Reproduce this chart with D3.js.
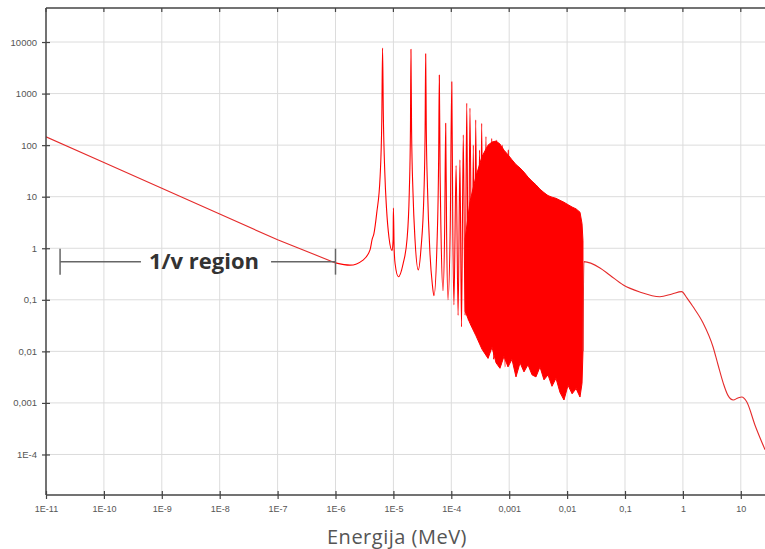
<!DOCTYPE html>
<html><head><meta charset="utf-8">
<script src="https://cdn.jsdelivr.net/npm/d3@7"></script>
<style>
html,body{margin:0;padding:0;background:#fff;}
svg{display:block;}
</style></head>
<body>
<script>
// ---- Data (energy in MeV, cross section in barns) ----
const xTickValues = [1e-11,1e-10,1e-9,1e-8,1e-7,1e-6,1e-5,1e-4,1e-3,1e-2,1e-1,1,10];
const xTickLabels = ["1E-11","1E-10","1E-9","1E-8","1E-7","1E-6","1E-5","1E-4","0,001","0,01","0,1","1","10"];
const yTickValues = [1e4,1e3,1e2,10,1,0.1,0.01,0.001,1e-4];
const yTickLabels = ["10000","1000","100","10","1","0,1","0,01","0,001","1E-4"];

// 1/v region
const oneOverVE     = [1e-11, 1e-10, 1e-9, 1e-8, 1e-7, 1e-6];
const oneOverVSigma = [145, 46, 14.6, 4.6, 1.46, 0.52];

// resolved resonance region (peaks and valleys)
const resolvedE = [1e-6, 1.78e-6, 2.99e-6, 3.95e-6, 4.3e-6, 4.6e-6, 5.15e-6, 5.9e-6, 6.3e-6, 6.5e-6, 6.7e-6, 7.1e-6, 7.6e-6, 8.4e-6, 9.5e-6, 9.9e-6, 1.0e-5, 1.03e-5, 1.07e-5, 1.22e-5, 1.47e-5, 1.72e-5, 1.88e-5, 1.97e-5, 2.01e-5, 2.06e-5, 2.18e-5, 2.36e-5, 2.69e-5, 3.0e-5, 3.37e-5, 3.53e-5, 3.61e-5, 3.7e-5, 3.88e-5, 4.28e-5, 4.7e-5, 5.02e-5, 5.66e-5, 6.05e-5, 6.21e-5, 6.4e-5, 6.64e-5, 7.19e-5, 7.7e-5, 8.0e-5, 8.3e-5, 8.77e-5, 9.6e-5, 1.02e-4, 1.06e-4, 1.11e-4, 1.21e-4, 1.31e-4, 1.41e-4, 1.5e-4, 1.61e-4, 1.73e-4, 1.85e-4, 1.97e-4, 2.10e-4, 2.28e-4, 2.40e-4, 2.52e-4, 2.64e-4, 2.84e-4, 3.07e-4, 3.2e-4, 3.35e-4, 3.6e-4, 3.97e-4, 4.31e-4, 4.57e-4, 4.75e-4, 4.99e-4, 5.36e-4, 6.08e-4, 6.67e-4, 7.73e-4, 8.45e-4, 9.64e-4, 1.0e-3];
const resolvedSigma = [0.52, 0.47, 0.59, 0.93, 1.5, 1.9, 4.8, 25, 300, 7600, 400, 30, 6, 1.6, 0.9, 1.5, 6, 1.0, 0.5, 0.28, 0.5, 1.5, 12, 200, 7250, 200, 12, 1.5, 0.38, 1.0, 12, 200, 5900, 200, 15, 0.8, 0.2, 0.12, 1.2, 60, 2300, 30, 2, 0.15, 3, 265, 2, 0.1, 3, 1700, 3, 0.08, 40, 0.05, 52, 0.03, 158, 0.05, 650, 0.04, 520, 0.03, 100, 0.025, 310, 0.02, 80, 0.5, 265, 0.012, 146, 0.0075, 60, 0.2, 135, 0.007, 125, 0.005, 100, 0.005, 80, 0.006];

// dense resonance band: upper and lower envelopes
const denseE     = [1.73e-4, 2.10e-4, 2.67e-4, 3.39e-4, 4.31e-4, 5.05e-4, 5.92e-4, 6.93e-4, 8.13e-4, 9.53e-4, 1.117e-3, 1.31e-3, 1.54e-3, 1.80e-3, 2.11e-3, 2.48e-3, 2.90e-3, 3.40e-3, 3.99e-3, 4.68e-3, 5.48e-3, 6.43e-3, 7.54e-3, 8.83e-3, 1.038e-2, 1.22e-2, 1.43e-2, 1.67e-2, 1.81e-2, 1.88e-2];
const denseUpper = [1.5, 8, 25, 60, 100, 115, 120, 105, 80, 65, 52, 42, 36, 30, 24, 20, 17, 14, 12, 10.5, 9.8, 9.3, 8.5, 7.8, 7, 6.3, 5.8, 5, 3, 1.4];
const denseLower = [0.06, 0.035, 0.02, 0.011, 0.0073, 0.012, 0.006, 0.0047, 0.008, 0.005, 0.007, 0.0032, 0.006, 0.004, 0.0055, 0.0035, 0.0032, 0.005, 0.0028, 0.0035, 0.0021, 0.003, 0.0016, 0.00114, 0.0022, 0.0015, 0.0019, 0.0013, 0.0024, 0.01];

// fast region
const fastE     = [0.0188, 0.0195, 0.037, 0.055, 0.0935, 0.18, 0.40, 0.65, 0.95, 1.18, 1.49, 2.22, 3.31, 4.04, 4.99, 6.0, 7.41, 8.95, 10.4, 12.65, 17.6, 26.2];
const fastSigma = [0.01, 0.55, 0.415, 0.30, 0.194, 0.142, 0.115, 0.13, 0.144, 0.108, 0.074, 0.036, 0.0123, 0.0055, 0.0024, 0.0014, 0.00114, 0.00125, 0.0013, 0.00105, 3.7e-4, 1.24e-4];

// annotation
const annoLabel = "1/v region";
const annoStartE = 1.75e-11, annoEndE = 1e-6, annoSigma = 0.55;
const xTitle = "Energija (MeV)";

// ---- Layout ----
const W = 765, H = 549;
const L = 46, R = 765, T = 8, B = 495;
const xMin = 1e-11, xMax = Math.pow(10, 1.418);
const yMin = Math.pow(10, -4.786), yMax = Math.pow(10, 4.66);

const x = d3.scaleLog().domain([xMin, xMax]).range([L, R]);
const y = d3.scaleLog().domain([yMin, yMax]).range([B, T]);

const svg = d3.select("body").append("svg").attr("width", W).attr("height", H)
  .style("font-family", "'Liberation Sans', Arial, sans-serif");

// grid
const grid = svg.append("g").attr("stroke", "#dcdcdc").attr("stroke-width", 1);
grid.selectAll("line.v").data(xTickValues.slice(1)).join("line")
  .attr("x1", d => x(d)).attr("x2", d => x(d)).attr("y1", T).attr("y2", B);
grid.selectAll("line.h").data(yTickValues).join("line")
  .attr("x1", L).attr("x2", R).attr("y1", d => y(d)).attr("y2", d => y(d));

svg.append("defs").append("clipPath").attr("id", "pc")
  .append("rect").attr("x", L).attr("y", T).attr("width", R - L).attr("height", B - T);
const plot = svg.append("g").attr("clip-path", "url(#pc)");

const pts = (E, S) => E.map((e, i) => [e, S[i]]);

// dense band
const bandData = denseE.map((e, i) => ({e, u: denseUpper[i], l: denseLower[i]}));
plot.append("path").datum(bandData)
  .attr("fill", "#ff0000").attr("stroke", "#ff0000").attr("stroke-width", 1)
  .attr("d", d3.area().x(d => x(d.e)).y0(d => y(d.l)).y1(d => y(d.u)));

// lines
const lineSmooth = d3.line().x(d => x(d[0])).y(d => y(d[1])).curve(d3.curveMonotoneX);
const lineLin = d3.line().x(d => x(d[0])).y(d => y(d[1]));

plot.append("path").datum(pts(oneOverVE, oneOverVSigma))
  .attr("fill", "none").attr("stroke", "#e52b2b").attr("stroke-width", 1.1).attr("d", lineLin);
plot.append("path").datum(pts(resolvedE, resolvedSigma))
  .attr("fill", "none").attr("stroke", "#ff0000").attr("stroke-width", 1.1)
  .attr("stroke-linejoin", "round").attr("d", lineSmooth);
plot.append("path").datum(pts(fastE, fastSigma))
  .attr("fill", "none").attr("stroke", "#e52b2b").attr("stroke-width", 1.1).attr("d", lineSmooth);

// axes
const axisColor = "#444";
const xAxis = svg.append("g").attr("transform", `translate(0,${B})`)
  .call(d3.axisBottom(x).tickValues(xTickValues).tickFormat((d, i) => xTickLabels[i]).tickSize(4).tickPadding(7));
xAxis.select(".domain").remove();
xAxis.selectAll(".tick line").attr("y1", -4).attr("y2", 4).attr("stroke", axisColor).attr("stroke-width", 1.2);
xAxis.selectAll(".tick text").attr("fill", "#555").style("font-size", "9px");

const yAxis = svg.append("g").attr("transform", `translate(${L},0)`)
  .call(d3.axisLeft(y).tickValues(yTickValues).tickFormat((d, i) => yTickLabels[i]).tickSize(4).tickPadding(5));
yAxis.select(".domain").remove();
yAxis.selectAll(".tick line").attr("x1", -4).attr("x2", 4).attr("stroke", axisColor).attr("stroke-width", 1.2);
yAxis.selectAll(".tick text").attr("fill", "#555").style("font-size", "9.5px");

// top ticks
svg.append("g").selectAll("line").data(xTickValues).join("line")
  .attr("x1", d => x(d)).attr("x2", d => x(d)).attr("y1", T).attr("y2", T + 4)
  .attr("stroke", axisColor).attr("stroke-width", 1.2);

// frame lines
svg.append("line").attr("x1", L).attr("x2", L).attr("y1", T).attr("y2", B).attr("stroke", axisColor).attr("stroke-width", 1.5);
svg.append("line").attr("x1", L).attr("x2", R).attr("y1", B).attr("y2", B).attr("stroke", axisColor).attr("stroke-width", 1.5);
svg.append("line").attr("x1", L).attr("x2", R).attr("y1", T).attr("y2", T).attr("stroke", axisColor).attr("stroke-width", 1.5);

// x title
svg.append("text").attr("x", 397).attr("y", 544).attr("text-anchor", "middle")
  .attr("fill", "#555").style("font-family", "'Open Sans', sans-serif").style("font-size", "20px")
  .style("letter-spacing", "0.5px").text(xTitle);

// annotation
const ay = y(annoSigma), ax0 = x(annoStartE), ax1 = x(annoEndE);
const annoText = svg.append("text").attr("x", 204).attr("y", ay + 7).attr("text-anchor", "middle")
  .attr("fill", "#333").style("font-family", "'Open Sans', sans-serif").style("font-weight", "bold")
  .style("font-size", "22px").text(annoLabel);
const bb = annoText.node().getBBox();
const ag = svg.append("g").attr("stroke", "#666").attr("stroke-width", 1.5);
ag.append("line").attr("x1", ax0).attr("x2", bb.x - 8).attr("y1", ay).attr("y2", ay);
ag.append("line").attr("x1", bb.x + bb.width + 12).attr("x2", ax1).attr("y1", ay).attr("y2", ay);
ag.append("line").attr("x1", ax0).attr("x2", ax0).attr("y1", ay - 13).attr("y2", ay + 13);
ag.append("line").attr("x1", ax1).attr("x2", ax1).attr("y1", ay - 13).attr("y2", ay + 13);
</script>
</body></html>
